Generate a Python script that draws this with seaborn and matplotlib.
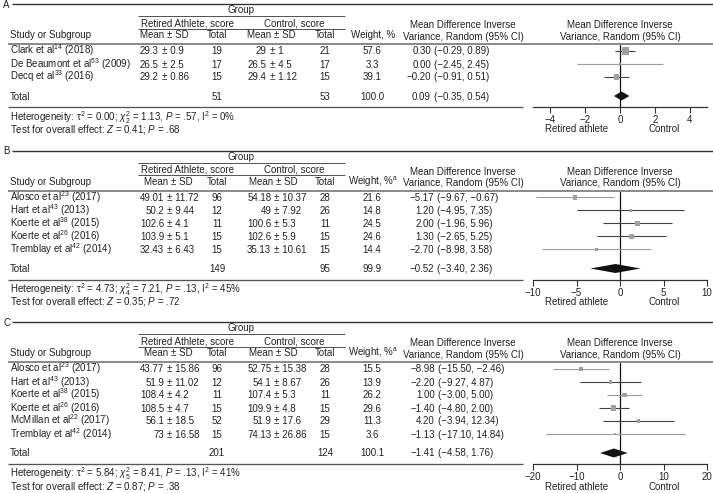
import matplotlib
matplotlib.use("Agg")
import matplotlib.pyplot as plt
from matplotlib.lines import Line2D
import seaborn as sns
import pandas as pd

# ---------------- data ----------------
A_STUDY = ["Clark et al$^{14}$ (2018)", "De Beaumont et al$^{53}$ (2009)", "Decq et al$^{33}$ (2016)"]
A_RET_MEAN = ["29.3", "26.5", "29.2"]
A_RET_SD = ["0.9", "2.5", "0.86"]
A_RET_N = [19, 17, 15]
A_CTL_MEAN = ["29", "26.5", "29.4"]
A_CTL_SD = ["1", "4.5", "1.12"]
A_CTL_N = [21, 17, 15]
A_WEIGHT = [57.6, 3.3, 39.1]
A_MD = [0.30, 0.00, -0.20]
A_LO = [-0.29, -2.45, -0.91]
A_HI = [0.89, 2.45, 0.51]
A_TOTAL_N = [51, 53]
A_TOTAL_W = 100.0
A_POOLED = [0.09, -0.35, 0.54]
A_HET = "Heterogeneity: τ$^2$ = 0.00; $\\chi^2_2$ = 1.13, $P$ = .57, I$^2$ = 0%"
A_TEST = "Test for overall effect: $Z$ = 0.41; $P$ = .68"
A_TICKS = [-4, -2, 0, 2, 4]
A_LIM = 5
A_WHDR = "Weight, %"

B_STUDY = ["Alosco et al$^{23}$ (2017)", "Hart et al$^{43}$ (2013)", "Koerte et al$^{38}$ (2015)",
           "Koerte et al$^{26}$ (2016)", "Tremblay et al$^{42}$ (2014)"]
B_RET_MEAN = ["49.01", "50.2", "102.6", "103.9", "32.43"]
B_RET_SD = ["11.72", "9.44", "4.1", "5.1", "6.43"]
B_RET_N = [96, 12, 11, 15, 15]
B_CTL_MEAN = ["54.18", "49", "100.6", "102.6", "35.13"]
B_CTL_SD = ["10.37", "7.92", "5.3", "5.9", "10.61"]
B_CTL_N = [28, 26, 11, 15, 15]
B_WEIGHT = [21.6, 14.8, 24.5, 24.6, 14.4]
B_MD = [-5.17, 1.20, 2.00, 1.30, -2.70]
B_LO = [-9.67, -4.95, -1.96, -2.65, -8.98]
B_HI = [-0.67, 7.35, 5.96, 5.25, 3.58]
B_TOTAL_N = [149, 95]
B_TOTAL_W = 99.9
B_POOLED = [-0.52, -3.40, 2.36]
B_HET = "Heterogeneity: τ$^2$ = 4.73; $\\chi^2_4$ = 7.21, $P$ = .13, I$^2$ = 45%"
B_TEST = "Test for overall effect: $Z$ = 0.35; $P$ = .72"
B_TICKS = [-10, -5, 0, 5, 10]
B_LIM = 10
B_WHDR = "Weight, %$^{\\rm a}$"

C_STUDY = ["Alosco et al$^{23}$ (2017)", "Hart et al$^{43}$ (2013)", "Koerte et al$^{38}$ (2015)",
           "Koerte et al$^{26}$ (2016)", "McMillan et al$^{22}$ (2017)", "Tremblay et al$^{42}$ (2014)"]
C_RET_MEAN = ["43.77", "51.9", "108.4", "108.5", "56.1", "73"]
C_RET_SD = ["15.86", "11.02", "4.2", "4.7", "18.5", "16.58"]
C_RET_N = [96, 12, 11, 15, 52, 15]
C_CTL_MEAN = ["52.75", "54.1", "107.4", "109.9", "51.9", "74.13"]
C_CTL_SD = ["15.38", "8.67", "5.3", "4.8", "17.6", "26.86"]
C_CTL_N = [28, 26, 11, 15, 29, 15]
C_WEIGHT = [15.5, 13.9, 26.2, 29.6, 11.3, 3.6]
C_MD = [-8.98, -2.20, 1.00, -1.40, 4.20, -1.13]
C_LO = [-15.50, -9.27, -3.00, -4.80, -3.94, -17.10]
C_HI = [-2.46, 4.87, 5.00, 2.00, 12.34, 14.84]
C_TOTAL_N = [201, 124]
C_TOTAL_W = 100.1
C_POOLED = [-1.41, -4.58, 1.76]
C_HET = "Heterogeneity: τ$^2$ = 5.84; $\\chi^2_5$ = 8.41, $P$ = .13, I$^2$ = 41%"
C_TEST = "Test for overall effect: $Z$ = 0.87; $P$ = .38"
C_TICKS = [-20, -10, 0, 10, 20]
C_LIM = 20
C_WHDR = "Weight, %$^{\\rm a}$"

# ---------------- style ----------------
sns.set_theme(style="white")
plt.rcParams['font.family'] = ['Liberation Sans', 'DejaVu Sans']
plt.rcParams['mathtext.fontset'] = 'custom'
plt.rcParams['mathtext.rm'] = 'Liberation Sans'
plt.rcParams['mathtext.it'] = 'Liberation Sans:italic'
plt.rcParams['mathtext.bf'] = 'Liberation Sans:bold'
plt.rcParams['axes.unicode_minus'] = True

W, H = 713, 493
FS = 7.0
TXT = "#222222"
DARK = "#444444"
LIGHT = "#9c9c9c"
SQ = "#a0a0a0"
BASE = 3.5  # baseline offset (px) from visual centre
SP = 2.7    # width of a space (px)
ROW = 13.0

fig = plt.figure(figsize=(W / 100, H / 100), dpi=100)


def T(x, y, s, ha="left", size=FS, color=TXT):
    fig.text(x / W, 1 - (y + BASE) / H, s, ha=ha, va="baseline", fontsize=size, color=color)


def L(x0, x1, y, lw_px, color):
    fig.add_artist(Line2D([x0 / W, x1 / W], [1 - y / H, 1 - y / H], lw=lw_px * 0.72,
                          color=color, transform=fig.transFigure, solid_capstyle="butt"))


def num(v):
    return f"{v:.2f}".replace("-", "\u2212")


def draw_panel(top, label, study, rm, rs, rn, cm, cs, cn, w, md, lo, hi, tn, tw, pooled,
               het, test, ticks, lim, whdr, lcol, ret_pm, ctl_pm, ci_x, ret_hc, ctl_hc):
    n = len(study)
    # headers
    T(3, top, label)
    L(12, 713, top, 1.4, "#333333")
    T(241, top + 5.5, "Group", ha="center")
    L(138, 345, top + 12, 1.0, "#555555")
    T(187, top + 18.5, "Retired Athlete, score", ha="center")
    T(294, top + 18.5, "Control, score", ha="center")
    L(138, 345, top + 24.5, 1.0, "#555555")
    T(10, top + 31, "Study or Subgroup")
    T(ret_hc, top + 31, "Mean ± SD", ha="center")
    T(217, top + 31, "Total", ha="center")
    T(ctl_hc, top + 31, "Mean ± SD", ha="center")
    T(325, top + 31, "Total", ha="center")
    T(373, top + 31, whdr, ha="center")
    T(463, top + 21, "Mean Difference Inverse", ha="center")
    T(463, top + 32, "Variance, Random (95% CI)", ha="center")
    T(620, top + 21, "Mean Difference Inverse", ha="center")
    T(620, top + 32, "Variance, Random (95% CI)", ha="center")
    L(8, 713, top + 40, 2.0, "#8c8c8c")

    ys = [top + 47 + ROW * i for i in range(n)]
    y_tot = ys[-1] + 19
    y_bot = y_tot + 11
    for i in range(n):
        y = ys[i]
        T(10, y, study[i])
        T(ret_pm - SP, y, rm[i], ha="right")
        T(ret_pm, y, "± " + rs[i])
        T(217, y, str(rn[i]), ha="center")
        T(ctl_pm - SP, y, cm[i], ha="right")
        T(ctl_pm, y, "± " + cs[i])
        T(325, y, str(cn[i]), ha="center")
        T(372, y, f"{w[i]:.1f}", ha="center")
        T(ci_x, y, num(md[i]), ha="right")
        T(ci_x + SP, y, f"({num(lo[i])}, {num(hi[i])})")
    T(10, y_tot, "Total")
    T(217, y_tot, str(tn[0]), ha="center")
    T(325, y_tot, str(tn[1]), ha="center")
    T(372, y_tot, f"{tw:.1f}", ha="center")
    T(ci_x, y_tot, num(pooled[0]), ha="right")
    T(ci_x + SP, y_tot, f"({num(pooled[1])}, {num(pooled[2])})")
    L(8, 523, y_bot, 1.3, "#555555")
    T(10, y_bot + 10, het)
    T(10, y_bot + 22, test)

    # forest axes (y in pixel units, inverted)
    x0, x1 = 533, 707
    ax = fig.add_axes([x0 / W, 1 - y_bot / H, (x1 - x0) / W, (y_bot - (top + 41)) / H])
    ax.set_xlim(-lim, lim)
    ax.set_ylim(y_bot, top + 41)
    ax.set_facecolor("none")
    for s in ["top", "left", "right"]:
        ax.spines[s].set_visible(False)
    ax.spines["bottom"].set_color("#333333")
    ax.spines["bottom"].set_linewidth(0.9)
    ax.axvline(0, color="#111111", lw=0.9, zorder=1)
    ax.hlines(ys, lo, hi, colors=lcol, lw=0.8, zorder=2)
    df = pd.DataFrame({"md": md, "y": ys, "w": w})
    sizes = [((0.95 * wi ** 0.5) * 0.72) ** 2 for wi in w]
    sns.scatterplot(data=df, x="md", y="y", marker="s", s=sizes, color=SQ,
                    edgecolor="none", linewidth=0, ax=ax, legend=False, zorder=3)
    m, l, h = pooled
    hh = 4.5
    ax.fill([l, m, h, m], [y_tot, y_tot - hh, y_tot, y_tot + hh], color="#111111", zorder=4,
            lw=0)
    ax.set_xticks(ticks)
    ax.set_xticklabels([str(t).replace("-", "\u2212") for t in ticks])
    ax.set_yticks([])
    ax.set_xlabel("")
    ax.set_ylabel("")
    ax.tick_params(axis="x", direction="out", length=4, width=0.8, colors="#333333",
                   labelsize=FS, pad=2.0, labelcolor=TXT, bottom=True)
    T(577, y_bot + 22, "Retired athlete", ha="center")
    T(664, y_bot + 22, "Control", ha="center")


draw_panel(4, "A", A_STUDY, A_RET_MEAN, A_RET_SD, A_RET_N, A_CTL_MEAN, A_CTL_SD, A_CTL_N,
           A_WEIGHT, A_MD, A_LO, A_HI, A_TOTAL_N, A_TOTAL_W, A_POOLED, A_HET, A_TEST,
           A_TICKS, A_LIM, A_WHDR, [DARK, LIGHT, DARK], 161.6, 269.6, 431, 164, 271)
draw_panel(150.5, "B", B_STUDY, B_RET_MEAN, B_RET_SD, B_RET_N, B_CTL_MEAN, B_CTL_SD, B_CTL_N,
           B_WEIGHT, B_MD, B_LO, B_HI, B_TOTAL_N, B_TOTAL_W, B_POOLED, B_HET, B_TEST,
           B_TICKS, B_LIM, B_WHDR, [LIGHT, DARK, DARK, DARK, LIGHT], 167, 274, 434, 168, 273)
draw_panel(322, "C", C_STUDY, C_RET_MEAN, C_RET_SD, C_RET_N, C_CTL_MEAN, C_CTL_SD, C_CTL_N,
           C_WEIGHT, C_MD, C_LO, C_HI, C_TOTAL_N, C_TOTAL_W, C_POOLED, C_HET, C_TEST,
           C_TICKS, C_LIM, C_WHDR, [LIGHT, DARK, LIGHT, DARK, DARK, LIGHT], 167, 274, 435, 168, 273)

fig.savefig("out.png", dpi=100)
